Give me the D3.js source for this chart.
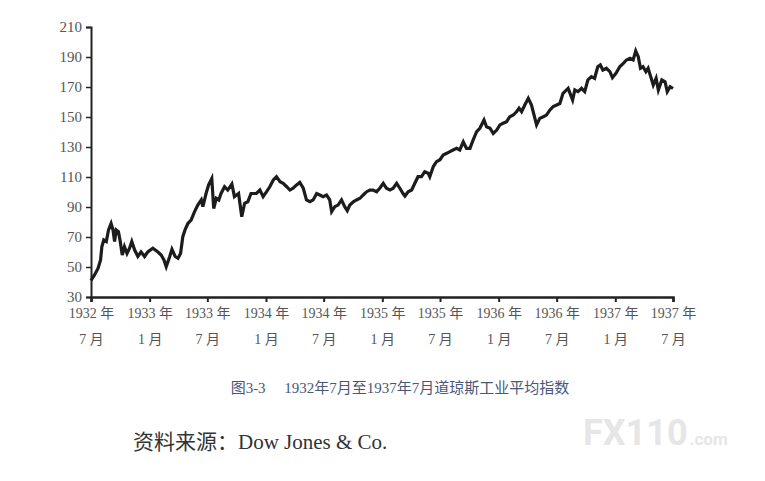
<!DOCTYPE html>
<html>
<head>
<meta charset="utf-8">
<script src="https://cdn.jsdelivr.net/npm/d3@7"></script>
<style>
  body { margin: 0; background: #fff; }
  svg { display: block; }
</style>
</head>
<body>
<svg id="chart" width="765" height="481"></svg>
<script>
// Dow Jones Industrial Average, Jul 1932 - Jul 1937
var dates = [
  "1932-07-01","1932-07-12","1932-07-23","1932-07-31","1932-08-04","1932-08-10","1932-08-18","1932-08-25",
  "1932-09-02","1932-09-08","1932-09-13","1932-09-18","1932-09-25","1932-09-30","1932-10-07","1932-10-14",
  "1932-10-22","1932-10-30","1932-11-06","1932-11-15","1932-11-25","1932-12-05","1932-12-16","1932-12-26",
  "1933-01-11","1933-01-27","1933-02-06","1933-02-15","1933-02-22","1933-03-05","1933-03-12","1933-03-22",
  "1933-03-31","1933-04-08","1933-04-15","1933-04-22","1933-05-01","1933-05-11","1933-05-22","1933-06-01",
  "1933-06-12","1933-06-17","1933-06-27","1933-07-05","1933-07-15","1933-07-21","1933-07-29","1933-08-06",
  "1933-08-13","1933-08-24","1933-09-03","1933-09-16","1933-09-24","1933-10-07","1933-10-17","1933-10-26",
  "1933-11-05","1933-11-15","1933-12-02","1933-12-13","1933-12-23","1934-01-03","1934-01-13","1934-01-24",
  "1934-02-03","1934-02-14","1934-02-24","1934-03-07","1934-03-17","1934-03-27","1934-04-07","1934-04-17",
  "1934-04-28","1934-05-08","1934-05-19","1934-05-29","1934-06-09","1934-06-19","1934-06-29","1934-07-10",
  "1934-07-20","1934-07-26","1934-08-05","1934-08-15","1934-08-26","1934-09-05","1934-09-13","1934-09-21",
  "1934-10-02","1934-10-12","1934-10-23","1934-11-02","1934-11-13","1934-11-23","1934-12-03","1934-12-14",
  "1934-12-24","1935-01-04","1935-01-14","1935-01-25","1935-02-04","1935-02-15","1935-02-25","1935-03-07",
  "1935-03-13","1935-03-23","1935-04-03","1935-04-13","1935-04-23","1935-05-04","1935-05-14","1935-05-25",
  "1935-05-30","1935-06-10","1935-06-20","1935-07-01","1935-07-11","1935-07-22","1935-08-01","1935-08-11",
  "1935-08-22","1935-09-01","1935-09-12","1935-09-22","1935-10-03","1935-10-13","1935-10-24","1935-11-03",
  "1935-11-16","1935-11-24","1935-12-05","1935-12-15","1935-12-26","1936-01-05","1936-01-15","1936-01-26",
  "1936-02-05","1936-02-16","1936-02-26","1936-03-05","1936-03-13","1936-03-23","1936-04-03","1936-04-13",
  "1936-04-29","1936-05-09","1936-05-20","1936-05-30","1936-06-10","1936-06-20","1936-07-01","1936-07-11",
  "1936-07-21","1936-08-06","1936-08-20","1936-08-27","1936-09-06","1936-09-17","1936-09-27","1936-10-07",
  "1936-10-18","1936-10-28","1936-11-07","1936-11-15","1936-11-23","1936-12-04","1936-12-15","1936-12-23",
  "1937-01-03","1937-01-15","1937-01-26","1937-02-05","1937-02-16","1937-02-26","1937-03-06","1937-03-14",
  "1937-03-21","1937-03-29","1937-04-07","1937-04-14","1937-04-22","1937-04-30","1937-05-09","1937-05-16",
  "1937-05-27","1937-06-06","1937-06-13","1937-06-22","1937-07-01"
];
var values = [
  41, 44.7, 49, 54.7, 63.5, 68, 67, 74.7,
  79, 74.7, 67, 74.7, 73.5, 68, 58, 63.5,
  59, 62.5, 67, 61.3, 57, 60, 57, 60,
  62.5, 60, 58, 54.7, 50.2, 57, 61.8, 57,
  55.8, 59, 70.2, 74.7, 79, 81.3, 86.9, 91.3,
  94.7, 90.2, 99, 104.7, 109, 89, 95.8, 94.7,
  99, 103.5, 101.3, 105.3, 96.9, 99, 83.5, 92.5,
  93.5, 99, 99, 101.3, 96.9, 100.2, 103.5, 108,
  110.2, 106.9, 105.8, 103.5, 101.3, 102.5, 104.7, 106.4,
  102.5, 94.7, 93.5, 94.7, 99, 98, 96.9, 98,
  94.7, 86.9, 90.2, 91.3, 94.7, 90.2, 87.6, 91.3,
  93.5, 94.7, 95.8, 98, 100.2, 101.3, 101.3, 100.2,
  102.5, 105.8, 102.5, 101.3, 102.5, 105.8, 102.5, 99,
  97.3, 100.2, 101.3, 105.8, 110.2, 110.2, 113.5, 112.5,
  110.2, 117, 120.2, 121.5, 124.7, 125.8, 126.9, 128,
  129.1, 128, 133.5, 129.1, 129.1, 134.7, 140.2, 142.5,
  148, 143.5, 142.5, 139, 141.3, 144.7, 145.8, 146.9,
  150.2, 151.3, 153.5, 155.8, 153.5, 158, 162.5, 158,
  144.7, 149.1, 150.2, 151.3, 154.7, 156.9, 158, 159,
  165.8, 169.1, 161.3, 168, 166.9, 169.1, 166.9, 174.7,
  176.9, 175.8, 183.5, 184.7, 181.3, 182.5, 180.2, 176.2,
  179.1, 183.5, 185.8, 188, 189.1, 188, 194, 190.2,
  182.5, 183.5, 180.2, 182.5, 176.9, 171.3, 175.8, 168,
  174.7, 173.5, 166.9, 170.2, 169
];
var yTicks = [30, 50, 70, 90, 110, 130, 150, 170, 190, 210];
var xTickDates = ["1932-07-01","1933-01-01","1933-07-01","1934-01-01","1934-07-01","1935-01-01",
                  "1935-07-01","1936-01-01","1936-07-01","1937-01-01","1937-07-01"];
var caption = "图3-3\u3000 1932年7月至1937年7月道琼斯工业平均指数";
var source = "资料来源：Dow Jones & Co.";

var SERIF = "'Liberation Serif', 'DejaVu Serif', 'Noto Sans CJK SC', serif";
var parse = d3.timeParse("%Y-%m-%d");
var data = dates.map(function(d, i) { return { date: parse(d), value: values[i] }; });

var svg = d3.select("#chart");
var plotL = 91, plotR = 673, plotT = 27, plotB = 297;

var x = d3.scaleTime()
  .domain([parse(xTickDates[0]), parse(xTickDates[xTickDates.length - 1])])
  .range([plotL, plotR]);
var y = d3.scaleLinear().domain([30, 210]).range([plotB, plotT]);

// y axis
var yAxis = svg.append("g")
  .attr("transform", "translate(" + plotL + ",0)")
  .call(d3.axisLeft(y).tickValues(yTicks).tickSize(5).tickPadding(4));
yAxis.attr("font-family", SERIF).attr("font-size", 15);
yAxis.select(".domain").attr("stroke", "#222").attr("stroke-width", 2);
yAxis.selectAll(".tick line").attr("stroke", "#222").attr("stroke-width", 1.5);
yAxis.selectAll("text").attr("fill", "#555");

// x axis
var xAxis = svg.append("g")
  .attr("transform", "translate(0," + plotB + ")")
  .call(d3.axisBottom(x).tickValues(xTickDates.map(parse)).tickSize(5).tickFormat(""));
xAxis.attr("font-family", SERIF).attr("font-size", 14);
xAxis.select(".domain").attr("stroke", "#222").attr("stroke-width", 2.5);
xAxis.selectAll(".tick line").attr("stroke", "#222").attr("stroke-width", 2);

var tickG = xAxis.selectAll(".tick");
tickG.append("text")
  .attr("y", 21)
  .attr("text-anchor", "middle")
  .attr("fill", "#555")
  .text(function(d) { return d.getFullYear() + " 年"; });
tickG.append("text")
  .attr("y", 47)
  .attr("text-anchor", "middle")
  .attr("fill", "#555")
  .text(function(d) { return (d.getMonth() + 1) + " 月"; });

// the index line
var line = d3.line()
  .x(function(d) { return x(d.date); })
  .y(function(d) { return y(d.value); });
svg.append("path")
  .datum(data)
  .attr("d", line)
  .attr("fill", "none")
  .attr("stroke", "#1c1c1c")
  .attr("stroke-width", 3.2)
  .attr("stroke-linejoin", "miter");

// caption
svg.append("text")
  .attr("x", 400)
  .attr("y", 393)
  .attr("text-anchor", "middle")
  .attr("fill", "#4a5878")
  .attr("font-family", SERIF)
  .attr("font-size", 15)
  .text(caption);

// source note
svg.append("text")
  .attr("x", 133)
  .attr("y", 449)
  .attr("fill", "#333")
  .attr("font-family", SERIF)
  .attr("font-size", 21)
  .text(source);

// faint watermark
var wm = svg.append("text")
  .attr("x", 583)
  .attr("y", 445)
  .attr("fill", "#e6e6e6")
  .attr("font-family", "Roboto, sans-serif")
  .attr("font-weight", "bold");
wm.append("tspan").attr("font-size", 36).text("FX110");
wm.append("tspan").attr("font-size", 17).attr("dx", 2).text(".com");
</script>
</body>
</html>
